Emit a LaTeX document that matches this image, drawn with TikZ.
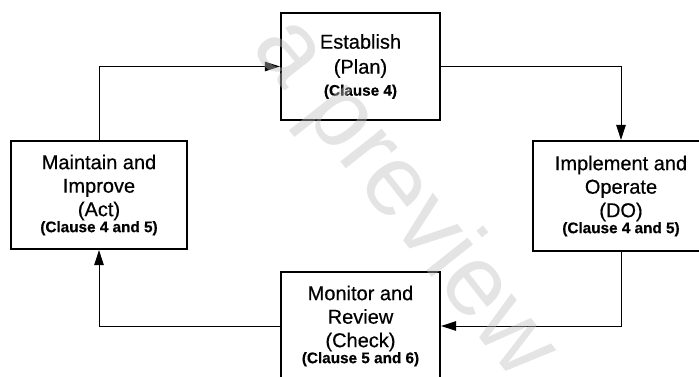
\documentclass[tikz,border=0pt]{standalone}
\usepackage{fontspec}
\setmainfont{Liberation Sans}
\newfontfamily\heavysans{Liberation Sans}[FakeBold=0.5]
\usetikzlibrary{arrows.meta}
\begin{document}
\begin{tikzpicture}[x=1pt,y=-1pt,
  stagebox/.style={draw, line width=2.2pt, inner sep=0pt, align=center,
    font=\heavysans\fontsize{20}{23.5}\selectfont},
  conn/.style={line width=1pt, -{Triangle[length=15pt,width=9.5pt]}},
  wmark/.style={text=black!25, opacity=0.42, font=\fontsize{100}{104}\selectfont, inner sep=0pt}]
\useasboundingbox (0,0) rectangle (699,376);

\node[stagebox, minimum width=159pt, minimum height=107pt] (est) at (360.5,66.5)
  {Establish\\[1.5pt](Plan)\\[-1.5pt]{\fontsize{15.3}{17}\selectfont\bfseries (Clause 4)}};
\node[stagebox, minimum width=176pt, minimum height=110pt] (impl) at (621,196)
  {Implement and\\Operate\\(DO)\\[-7.5pt]{\fontsize{15.3}{17}\selectfont\bfseries (Clause 4 and 5)}};
\node[stagebox, minimum width=159pt, minimum height=108pt] (mon) at (360.5,326)
  {Monitor and\\Review\\(Check)\\[-7.5pt]{\fontsize{15.3}{17}\selectfont\bfseries (Clause 5 and 6)}};
\node[stagebox, minimum width=176pt, minimum height=108pt] (maint) at (99,195)
  {Maintain and\\Improve\\(Act)\\[-7.5pt]{\fontsize{15.3}{17}\selectfont\bfseries (Clause 4 and 5)}};

\draw[conn] (maint.north) |- (est.west);
\draw[conn] (est.east) -| (impl.north);
\draw[conn] (impl.south) |- (mon.east);
\draw[conn] (mon.west) -| (maint.south);

\node[wmark, rotate=-51.7] (wm) at (403,199) {a preview};
\end{tikzpicture}
\end{document}
